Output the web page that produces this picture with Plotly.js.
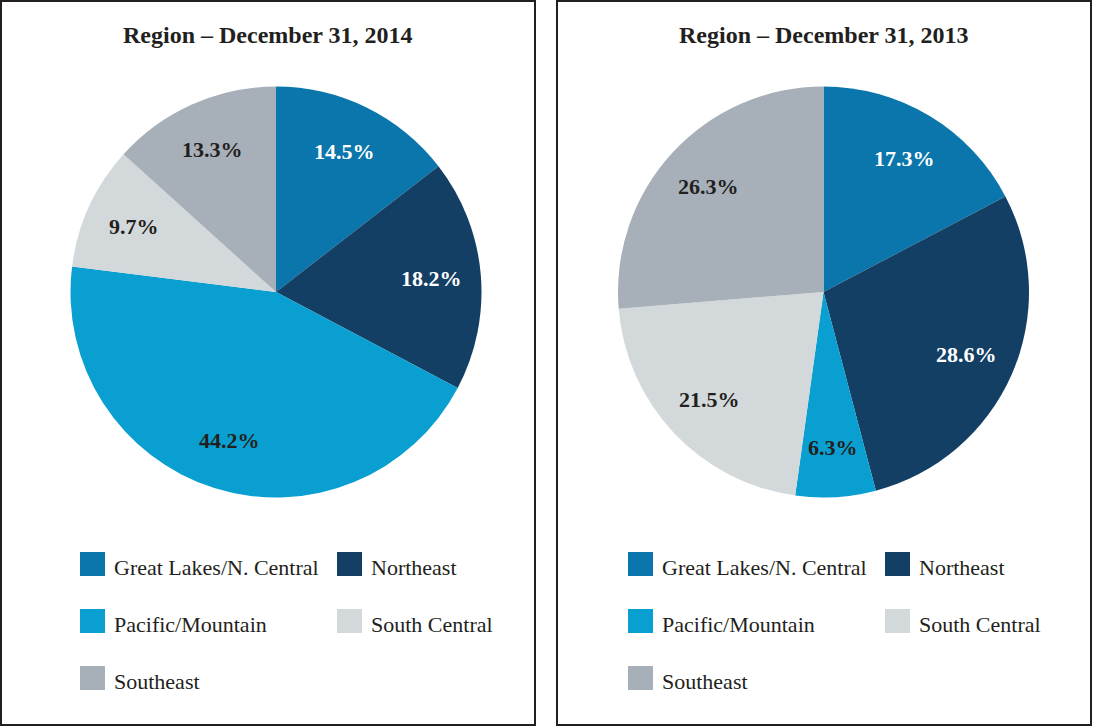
<!DOCTYPE html>
<html>
<head>
<meta charset="utf-8">
<script src="https://cdn.plot.ly/plotly-3.0.1.min.js"></script>
<style>
html,body{margin:0;padding:0;background:#fff;}
#chart{width:1094px;height:727px;}
</style>
</head>
<body>
<div id="chart"></div>
<script>
// ---- data ----
const regions = ["Great Lakes/N. Central", "Northeast", "Pacific/Mountain", "South Central", "Southeast"];
const colors = ["#0B76AB", "#143F64", "#0A9FD1", "#D3D8DB", "#A7AFB8"];
const labelColors = ["#ffffff", "#ffffff", "#231F20", "#231F20", "#231F20"];
const share2014 = [14.5, 18.2, 44.2, 9.7, 13.3];
const share2013 = [17.3, 28.6, 6.3, 21.5, 26.3];
const titles = ["Region \u2013 December 31, 2014", "Region \u2013 December 31, 2013"];

// ---- layout helpers (pixel -> paper) ----
const W = 1094, H = 727;
const px = x => x / W;
const py = y => 1 - y / H;

const panels = [
  {x0: 1, x1: 535, legendOffset: 0, cx: 276, cy: 292, r: 205.5, values: share2014, title: titles[0]},
  {x0: 557, x1: 1091, legendOffset: 548, cx: 823.5, cy: 292, r: 205.5, values: share2013, title: titles[1]}
];

const serif = "'Liberation Serif', 'Times New Roman', Times, serif";
const traces = [];
const shapes = [];
const annotations = [];

panels.forEach((p, i) => {
  traces.push({
    type: "pie",
    labels: regions,
    values: p.values,
    sort: false,
    direction: "clockwise",
    rotation: 0,
    marker: {colors: colors, line: {width: 0}},
    textinfo: "none",
    hoverinfo: "label+value",
    showlegend: false,
    domain: {
      x: [px(p.cx - p.r), px(p.cx + p.r)],
      y: [py(p.cy + p.r), py(p.cy - p.r)]
    }
  });

  // slice percentage labels, placed on each slice's mid-angle
  const total = p.values.reduce((a, b) => a + b, 0);
  let cum = 0;
  p.values.forEach((v, k) => {
    const mid = (cum + v / 2) / total * 2 * Math.PI;
    cum += v;
    const rr = p.r * 0.76;
    const lx = p.cx + rr * Math.sin(mid);
    const ly = p.cy - rr * Math.cos(mid);
    annotations.push({
      xref: "paper", yref: "paper",
      x: px(lx), y: py(ly),
      xanchor: "center", yanchor: "middle",
      text: "<b>" + v.toFixed(1) + "%</b>", showarrow: false,
      font: {family: serif, size: 22, color: labelColors[k]}
    });
  });

  // panel frame
  shapes.push({
    type: "rect", xref: "paper", yref: "paper",
    x0: px(p.x0), x1: px(p.x1), y0: py(725), y1: py(1),
    line: {color: "#231F20", width: 2}, fillcolor: "rgba(0,0,0,0)"
  });

  // title
  annotations.push({
    xref: "paper", yref: "paper",
    x: px((p.x0 + p.x1) / 2), y: py(35),
    xanchor: "center", yanchor: "middle",
    text: "<b>" + p.title + "</b>", showarrow: false,
    font: {family: serif, size: 24, color: "#231F20"}
  });

  // legend (from categories & colours)
  regions.forEach((name, k) => {
    const col = k % 2, row = Math.floor(k / 2);
    const sx = 80 + p.legendOffset + col * 257;
    const sy = 552 + row * 57;
    shapes.push({
      type: "rect", xref: "paper", yref: "paper",
      x0: px(sx), x1: px(sx + 25), y0: py(sy + 24), y1: py(sy),
      line: {width: 0}, fillcolor: colors[k]
    });
    annotations.push({
      xref: "paper", yref: "paper",
      x: px(sx + 32), y: py(sy + 15),
      xanchor: "left", yanchor: "middle",
      text: name, showarrow: false,
      font: {family: serif, size: 22, color: "#231F20"}
    });
  });
});

const layout = {
  width: W, height: H,
  margin: {l: 0, r: 0, t: 0, b: 0},
  paper_bgcolor: "#ffffff",
  showlegend: false,
  shapes: shapes,
  annotations: annotations
};

Plotly.newPlot("chart", traces, layout, {displayModeBar: false, staticPlot: true});
</script>
</body>
</html>
